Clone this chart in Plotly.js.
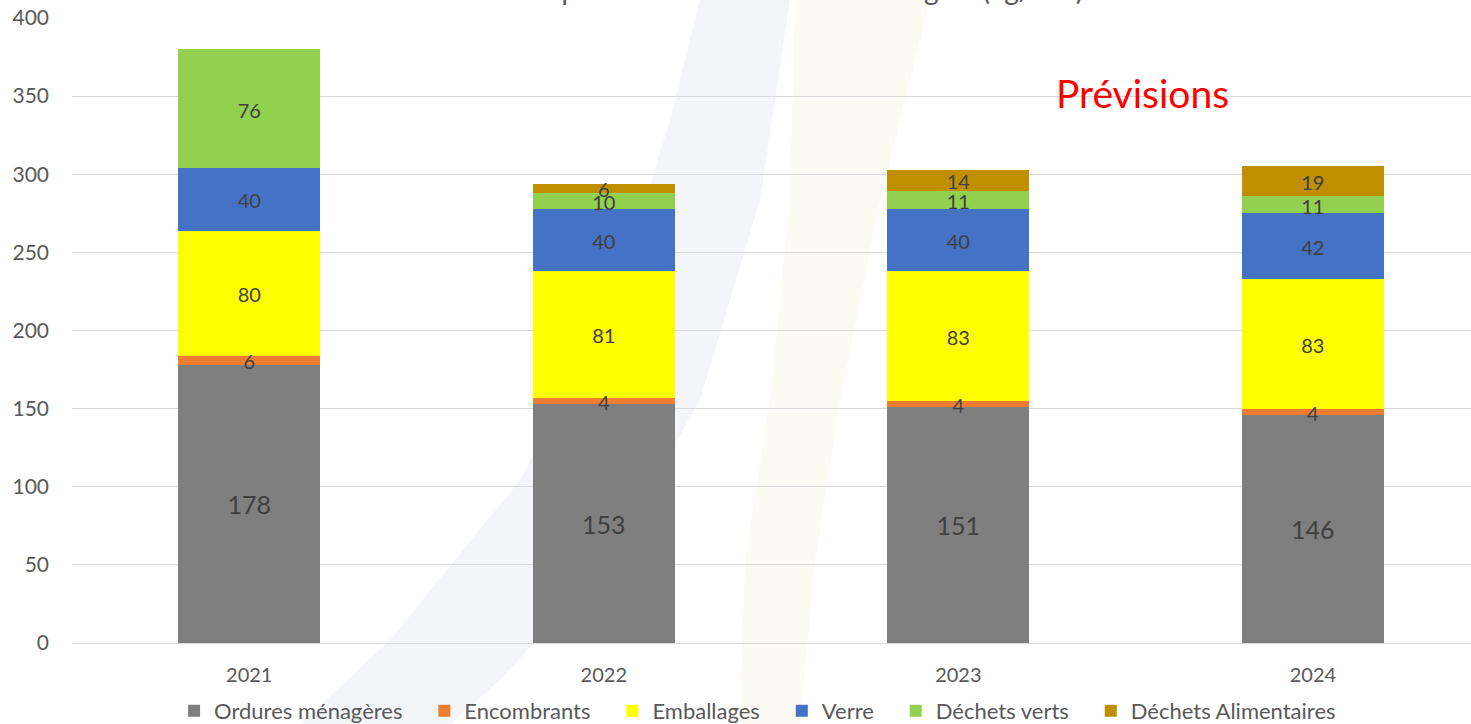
<!DOCTYPE html>
<html><head><meta charset="utf-8">
<script src="https://cdn.plot.ly/plotly-3.0.1.min.js"></script>
<style>html,body{margin:0;padding:0;background:#fff;overflow:hidden}</style>
</head><body>
<div id="chart" style="width:1471px;height:724px"></div>
<script>
const years = ["2021", "2022", "2023", "2024"];
const seriesNames = ["Ordures ménagères", "Encombrants", "Emballages", "Verre", "Déchets verts", "Déchets Alimentaires"];
const ordures = [178, 153, 151, 146];
const encombrants = [6, 4, 4, 4];
const emballages = [80, 81, 83, 83];
const verre = [40, 40, 40, 42];
const dechetsVerts = [76, 10, 11, 11];
const dechetsAlim = [null, 6, 14, 19];
const colors = ["#7F7F7F", "#ED7D31", "#FFFF00", "#4472C4", "#92D050", "#BF8F00"];
const titleText = "Évolution production des déchets ménagers (kg/hab)";
const forecastText = "Prévisions";

const allSeries = [ordures, encombrants, emballages, verre, dechetsVerts, dechetsAlim];
const font = "Lato, 'Open Sans', sans-serif";
const labelShift = 2.5; // small downward nudge of labels, in axis units
const traces = [];
allSeries.forEach((vals, i) => {
  traces.push({
    type: "bar", name: seriesNames[i] + (i < allSeries.length - 1 ? "\u00a0\u00a0\u00a0" : ""),
    x: years, y: vals, marker: {color: colors[i]}, hoverinfo: "skip"
  });
});
// data labels centred in each segment
const cum = years.map(() => 0);
allSeries.forEach((vals, i) => {
  const ys = [], ts = [];
  vals.forEach((v, j) => {
    if (v === null) { ys.push(null); ts.push(""); return; }
    ys.push(cum[j] + v / 2 - labelShift); ts.push(String(v)); cum[j] += v;
  });
  traces.push({
    type: "scatter", mode: "text", x: years, y: ys, text: ts, showlegend: false,
    textposition: "middle center", hoverinfo: "skip", cliponaxis: false,
    textfont: {family: font, size: i === 0 ? 25 : 20, color: "#404040"}
  });
});

// faint watermark bands (page pixels -> paper coords)
const L = 72, T = 18, W = 1399, H = 625;
function px(x, y) { return ((x - L) / W).toFixed(4) + "," + ((T + H - y) / H).toFixed(4); }
function pathOf(pts) { return "M" + pts.map(p => px(p[0], p[1])).join(" L") + " Z"; }
const band1 = [[700,0],[790,0],[760,200],[700,400],[610,560],[500,680],[450,724],[300,724],[390,640],[520,480],[615,300],[670,120]];
const band2 = [[795,0],[930,0],[880,200],[840,400],[815,560],[800,724],[740,724],[745,560],[770,400],[790,200]];

const layout = {
  width: 1471, height: 724,
  margin: {l: 72, r: 0, t: 18, b: 81},
  paper_bgcolor: "#ffffff", plot_bgcolor: "rgba(0,0,0,0)",
  barmode: "stack", bargap: 0.6,
  font: {family: font, color: "#595959"},
  xaxis: {type: "category", range: [-0.5, 3.446], showgrid: false, zeroline: false,
    showline: false, ticks: "", tickfont: {size: 20, color: "#595959"}, ticklabelstandoff: 18},
  yaxis: {range: [0, 400], dtick: 50, showgrid: true, gridcolor: "#D9D9D9", gridwidth: 1,
    zeroline: true, zerolinecolor: "#D9D9D9", zerolinewidth: 1, showline: false, ticks: "",
    tickfont: {size: 21, color: "#595959"}, ticklabelstandoff: 22},
  showlegend: true,
  legend: {orientation: "h", x: 0.515, xref: "container", xanchor: "center", y: 0.018, yref: "container", yanchor: "middle",
    font: {size: 22, color: "#595959"}, traceorder: "normal", itemclick: false, bgcolor: "rgba(0,0,0,0)"},
  shapes: [
    {type: "path", xref: "paper", yref: "paper", path: pathOf(band1), fillcolor: "#F4F5F9", line: {width: 0}, layer: "below"},
    {type: "path", xref: "paper", yref: "paper", path: pathOf(band2), fillcolor: "#FBFBF3", line: {width: 0}, layer: "below"}
  ],
  annotations: [
    {text: titleText, xref: "paper", yref: "paper", x: 0.492, y: 1.016, xanchor: "center", yanchor: "bottom",
      showarrow: false, font: {size: 28, color: "#595959", family: font}},
    {text: forecastText, xref: "paper", yref: "paper", x: 0.765, y: 0.88, xanchor: "center", yanchor: "middle",
      showarrow: false, font: {size: 39, color: "#FF0000", family: font}}
  ]
};
Plotly.newPlot("chart", traces, layout, {displayModeBar: false, staticPlot: true});
</script>
</body></html>
